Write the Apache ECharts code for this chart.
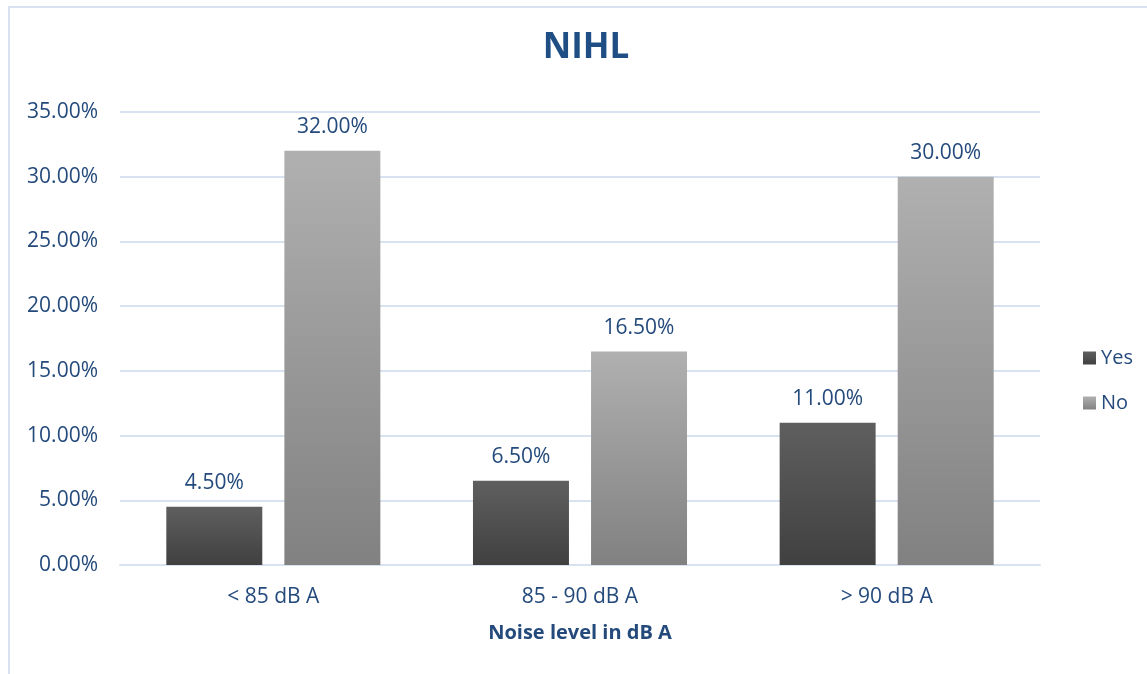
<!DOCTYPE html>
<html>
<head>
<meta charset="utf-8">
<script src="https://cdn.jsdelivr.net/npm/echarts@6/dist/echarts.min.js"></script>
<style>
html,body{margin:0;padding:0;background:#fff;}
#c{width:1147px;height:674px;}
</style>
</head>
<body>
<div id="c"></div>
<script>
var categories = ['< 85 dB A', '85 - 90 dB A', '> 90 dB A'];
var yesValues = [4.5, 6.5, 11.0];
var noValues = [32.0, 16.5, 30.0];
var seriesNames = ['Yes', 'No'];
var titleText = 'NIHL';
var xAxisName = 'Noise level in dB A';

var blue = '#244a7c';
var font = 'Open Sans';

function grad(top, bottom) {
  return new echarts.graphic.LinearGradient(0, 0, 0, 1, [
    {offset: 0, color: top},
    {offset: 1, color: bottom}
  ]);
}

var chart = echarts.init(document.getElementById('c'));
chart.setOption({
  backgroundColor: '#fff',
  animation: false,
  textStyle: {fontFamily: font},
  graphic: [{
    type: 'rect',
    shape: {x: 9, y: 7, width: 1200, height: 720},
    style: {fill: 'none', stroke: '#d9e2f0', lineWidth: 2},
    z: -10
  }],
  title: {
    text: titleText,
    left: 586,
    textAlign: 'center',
    top: 31,
    padding: 0,
    textStyle: {fontFamily: font, fontSize: 35, fontWeight: 'bold', color: '#1f4e85'}
  },
  legend: {
    orient: 'vertical',
    left: 1078,
    top: 343,
    itemWidth: 13,
    itemHeight: 13,
    itemGap: 25,
    icon: 'rect',
    textStyle: {fontFamily: font, fontSize: 20, color: blue},
    data: seriesNames
  },
  grid: {left: 120, right: 107, top: 112, bottom: 109, containLabel: false},
  xAxis: {
    type: 'category',
    data: categories,
    axisTick: {show: false},
    axisLine: {show: true, lineStyle: {color: '#d9e2f0', width: 2}},
    axisLabel: {fontFamily: font, fontSize: 21, color: blue, margin: 22},
    name: xAxisName,
    nameLocation: 'middle',
    nameGap: 58,
    nameTextStyle: {fontFamily: font, fontSize: 20, fontWeight: 'bold', color: blue}
  },
  yAxis: {
    type: 'value',
    min: 0,
    max: 35,
    interval: 5,
    axisLine: {show: false},
    axisTick: {show: false},
    splitLine: {lineStyle: {color: '#d9e2f0', width: 2}},
    axisLabel: {
      fontFamily: font, fontSize: 21, color: blue, margin: 22,
      formatter: function (v) { return v.toFixed(2) + '%'; }
    }
  },
  series: [{
    name: seriesNames[0],
    type: 'bar',
    data: yesValues,
    barWidth: '31.3%',
    barGap: '23%',
    itemStyle: {color: grad('#5f5f5f', '#404040')},
    label: {
      show: true, position: 'top', distance: 13,
      fontFamily: font, fontSize: 21, color: blue,
      formatter: function (p) { return p.value.toFixed(2) + '%'; }
    }
  }, {
    name: seriesNames[1],
    type: 'bar',
    data: noValues,
    barWidth: '31.3%',
    barGap: '23%',
    itemStyle: {color: grad('#b0b0b0', '#818181')},
    label: {
      show: true, position: 'top', distance: 13,
      fontFamily: font, fontSize: 21, color: blue,
      formatter: function (p) { return p.value.toFixed(2) + '%'; }
    }
  }]
});
</script>
</body>
</html>
